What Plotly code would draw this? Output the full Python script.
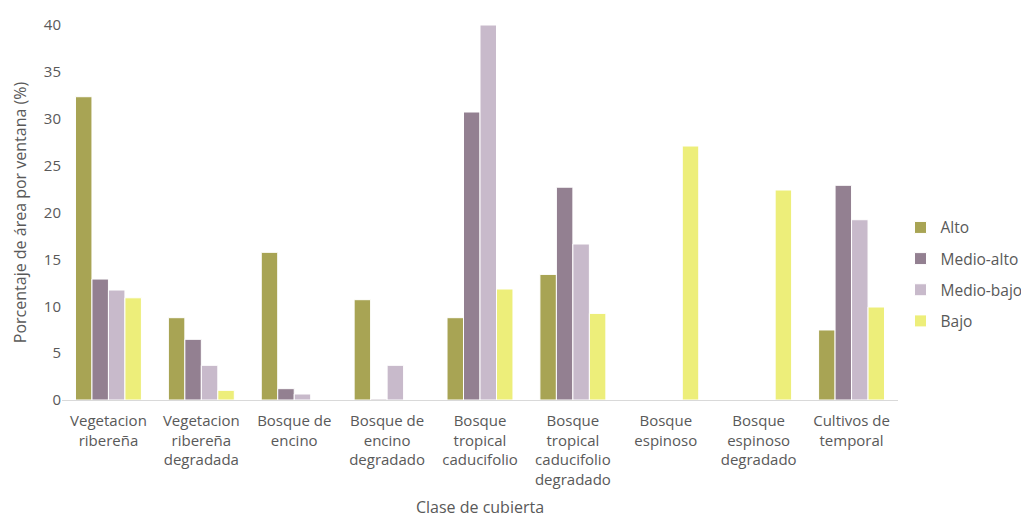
import plotly.graph_objects as go

categories = [
    "Vegetacion<br>ribereña",
    "Vegetacion<br>ribereña<br>degradada",
    "Bosque de<br>encino",
    "Bosque de<br>encino<br>degradado",
    "Bosque<br>tropical<br>caducifolio",
    "Bosque<br>tropical<br>caducifolio<br>degradado",
    "Bosque<br>espinoso",
    "Bosque<br>espinoso<br>degradado",
    "Cultivos de<br>temporal",
]

alto = [32.35, 8.78, 15.75, 10.7, 8.78, 13.4, 0, 0, 7.47]
medio_alto = [12.9, 6.47, 1.21, 0.1, 30.72, 22.7, 0, 0, 22.9]
medio_bajo = [11.73, 3.7, 0.64, 3.7, 40.0, 16.64, 0, 0, 19.23]
bajo = [10.9, 1.03, 0, 0, 11.84, 9.24, 27.09, 22.4, 9.92]

series = [
    ("Alto", alto, "#A8A454"),
    ("Medio-alto", medio_alto, "#938091"),
    ("Medio-bajo", medio_bajo, "#C8BACB"),
    ("Bajo", bajo, "#EDEE7A"),
]

fig = go.Figure()
for i, (name, vals, color) in enumerate(series):
    fig.add_trace(go.Bar(
        x=categories, y=vals, name=name, legendgroup=name,
        marker=dict(color=color, line=dict(color="white", width=1)),
    ))

font_family = "Open Sans, Noto Sans, sans-serif"
fig.update_layout(
    width=1021, height=518,
    margin=dict(l=62, r=123, t=25, b=118, autoexpand=False),
    paper_bgcolor="white", plot_bgcolor="white",
    barmode="group", bargap=0.29, bargroupgap=0.0,
    font=dict(family=font_family, size=14, color="#595959"),
    legend=dict(
        x=1.003, y=0.335, xanchor="left", yanchor="middle",
        font=dict(size=15.5, color="#595959"),
        tracegroupgap=8, itemwidth=30,
    ),
    xaxis=dict(
        showline=True, linecolor="#D9D9D9", linewidth=1,
        ticks="", ticklabelstandoff=7,
        tickfont=dict(size=15, color="#595959"),
        title=dict(text="Clase de cubierta", font=dict(size=16, color="#595959"), standoff=19),
    ),
    yaxis=dict(
        range=[0, 40], dtick=5, showgrid=False, zeroline=False,
        showline=False, ticks="",
        tickfont=dict(size=15, color="#595959"),
        title=dict(text="Porcentaje de área por ventana (%)", font=dict(size=16, color="#595959"), standoff=13),
    ),
)

fig.write_html("out.html")
